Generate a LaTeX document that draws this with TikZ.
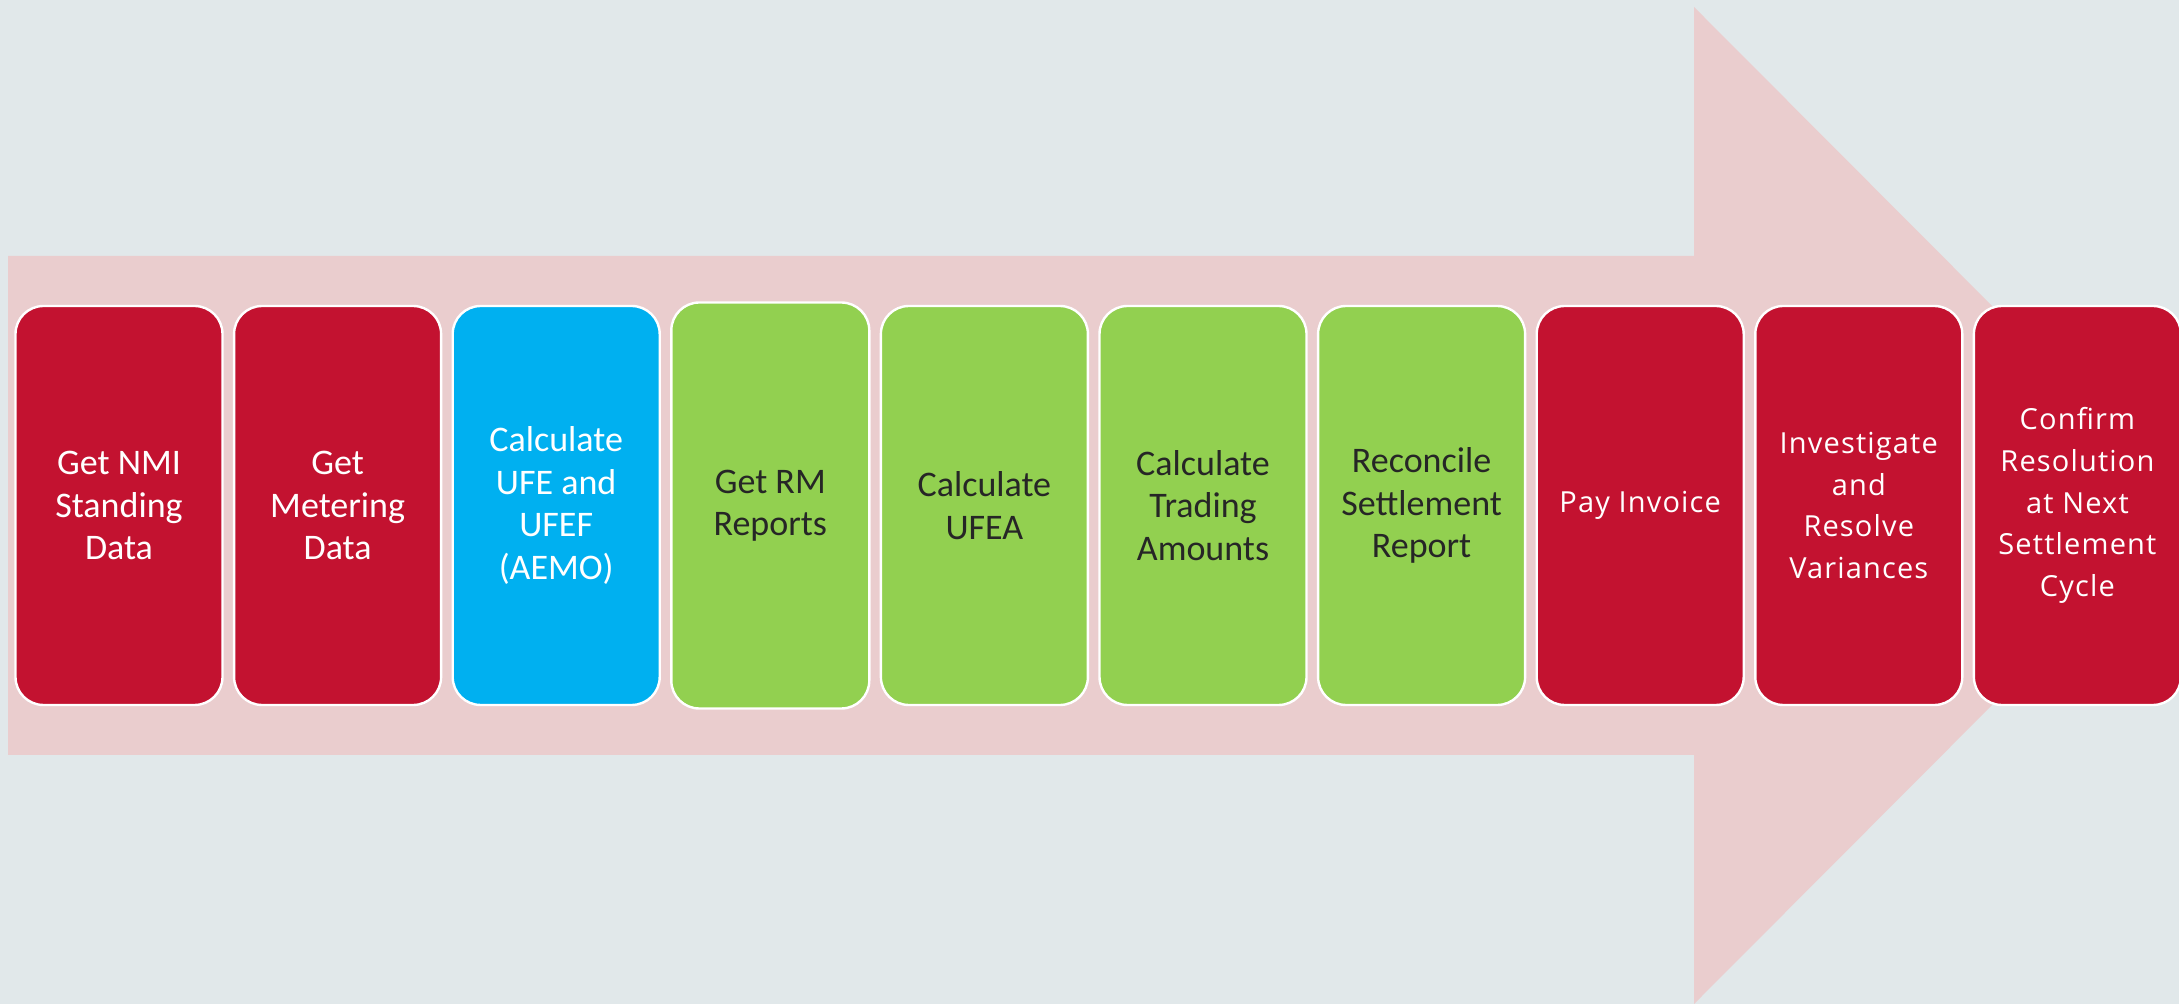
\documentclass[tikz,border=0pt]{standalone}
\usepackage{fontspec}
\setmainfont{Carlito}
\newfontfamily\widefont[LetterSpace=4]{Open Sans}
\usetikzlibrary{positioning}

\definecolor{bgcol}{RGB}{225,232,234}
\definecolor{arrowcol}{RGB}{234,205,206}
\definecolor{stepred}{RGB}{195,18,48}
\definecolor{stepblue}{RGB}{0,176,240}
\definecolor{stepgreen}{RGB}{146,208,80}
\definecolor{steptext}{RGB}{38,38,38}

\begin{document}
\begin{tikzpicture}[
  x = 0.5pt, y = -0.5pt,
  task/.style={draw=white, line width=1.2pt, rounded corners=14pt, minimum width=103.5pt, minimum height=199.5pt, inner sep=0pt, align=center, font=\fontsize{18}{21.2}\selectfont},
  redtask/.style={task, fill=stepred, text=white},
  bluetask/.style={task, fill=stepblue, text=white},
  greentask/.style={task, fill=stepgreen, text=steptext},
  widetask/.style={redtask, font=\widefont\fontsize{14.5}{20.8}\selectfont},
  node distance = 4.6pt
]
%general params
\def\ty{505.5} %middle of the arrow
\def\headx{1694} %start of the arrow head

%background and frame
\clip (0,0) rectangle (2179,1004);
\fill[bgcol] (0,0) rectangle (2179,1004);

%big arrow
\fill[arrowcol] (8,256) -- (\headx,256) -- (\headx,7) -- (2191,\ty) -- (\headx,1004) -- (\headx,755) -- (8,755) -- cycle;

%steps
\node (getnmi)  [redtask] at (119,\ty) {Get NMI\\Standing\\Data};
\node (getmeter) [redtask, right=of getnmi] {Get\\Metering\\Data};
\node (calcufe) [bluetask, right=of getmeter] {Calculate\\UFE and\\UFEF\\(AEMO)};
\node (getrm)   [greentask, right=of calcufe, minimum width=99pt, minimum height=203pt] {Get RM\\Reports};
\node (calcufea) [greentask, right=of getrm] {Calculate\\UFEA};
\node (calctrade) [greentask, right=of calcufea] {Calculate\\Trading\\Amounts};
\node (reconcile) [greentask, right=of calctrade] {Reconcile\\Settlement\\Report};
\node (payinv)  [widetask, right=of reconcile] {Pay Invoice};
\node (investig) [widetask, right=of payinv] {Investigate\\and\\Resolve\\Variances};
\node (confirm) [widetask, right=of investig] {Confirm\\Resolution\\at Next\\Settlement\\Cycle};

\end{tikzpicture}
\end{document}
